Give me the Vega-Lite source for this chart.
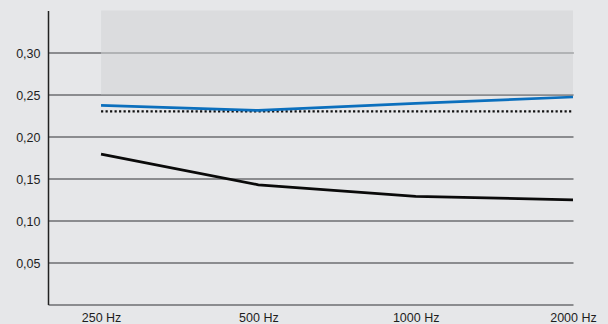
{
  "$schema": "https://vega.github.io/schema/vega-lite/v6.json",
  "width": 525,
  "height": 294,
  "autosize": "none",
  "padding": {"left": 48, "top": 10.5, "right": 35, "bottom": 19.5},
  "background": "#e6e7e9",
  "config": {
    "view": {"stroke": null},
    "font": "Liberation Sans",
    "axis": {"labelFont": "Liberation Sans", "labelFontSize": 12.5, "labelColor": "#1e1e1e"}
  },
  "datasets": {
    "series": [
      {"freq": 250, "series": "Serie A", "value": 0.237},
      {"freq": 500, "series": "Serie A", "value": 0.231},
      {"freq": 1000, "series": "Serie A", "value": 0.2395},
      {"freq": 2000, "series": "Serie A", "value": 0.247},
      {"freq": 250, "series": "Serie B", "value": 0.179},
      {"freq": 500, "series": "Serie B", "value": 0.1425},
      {"freq": 1000, "series": "Serie B", "value": 0.1288},
      {"freq": 2000, "series": "Serie B", "value": 0.1246}
    ],
    "band": [{"from": 250, "to": 2000, "low": 0.25, "high": 0.35}],
    "limit": [{"from": 250, "to": 2000, "value": 0.23}]
  },
  "layer": [
    {
      "data": {"name": "band"},
      "mark": {"type": "rect", "color": "#d2d3d5", "opacity": 0.55},
      "encoding": {
        "x": {"field": "from", "type": "quantitative", "scale": {"type": "log", "base": 2, "domain": [197.9, 2000], "nice": false},
          "axis": {"values": [250, 500, 1000, 2000], "labelExpr": "datum.value + ' Hz'", "grid": false, "ticks": false, "domain": false, "labelPadding": 7, "title": null, "labelFlush": false, "labelOverlap": false}},
        "x2": {"field": "to"},
        "y": {"field": "low", "type": "quantitative", "scale": {"domain": [0, 0.35], "nice": false, "zero": true},
          "axis": {"values": [0, 0.05, 0.1, 0.15, 0.2, 0.25, 0.3], "labelExpr": "datum.value == 0 ? '' : replace(format(datum.value, '.2f'), '.', ',')", "grid": true, "gridColor": "#6d6e71", "gridWidth": 1.4, "ticks": false, "domain": true, "domainColor": "#222222", "domainWidth": 1.5, "labelPadding": 8, "labelBaseline": "middle", "labelOffset": 1, "title": null, "labelFlush": false, "labelOverlap": false}},
        "y2": {"field": "high"}
      }
    },
    {
      "data": {"name": "limit"},
      "mark": {"type": "rule", "color": "#111111", "strokeWidth": 2.2, "strokeDash": [2.2, 2.3]},
      "encoding": {
        "x": {"field": "from", "type": "quantitative"},
        "x2": {"field": "to"},
        "y": {"field": "value", "type": "quantitative"}
      }
    },
    {
      "data": {"name": "series"},
      "mark": {"type": "line", "interpolate": "linear", "strokeWidth": 2.7, "strokeJoin": "round"},
      "encoding": {
        "x": {"field": "freq", "type": "quantitative"},
        "y": {"field": "value", "type": "quantitative"},
        "color": {"field": "series", "type": "nominal", "scale": {"domain": ["Serie A", "Serie B"], "range": ["#0b6fbd", "#0a0a0a"]}, "legend": null}
      }
    }
  ]
}
